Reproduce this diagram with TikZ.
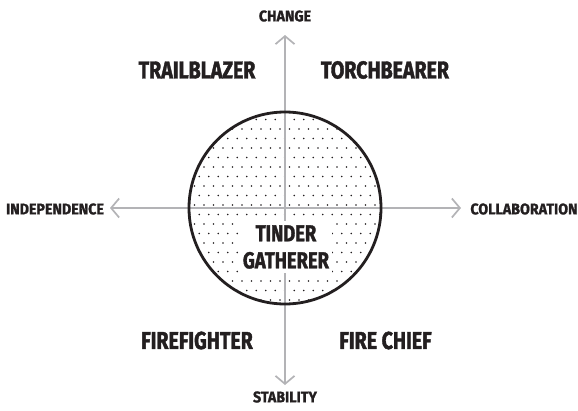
\documentclass[tikz,border=0pt]{standalone}
\usepackage{fontspec}
\newfontfamily\cf[FakeStretch=0.80, BoldFeatures={FakeBold=1.6}]{Fira Sans}
\newfontfamily\cfs[FakeStretch=0.92, BoldFeatures={FakeBold=1.2}]{Fira Sans}
\usetikzlibrary{arrows.meta}
\definecolor{ink}{HTML}{231F20}
\definecolor{axisgray}{HTML}{B3B3B6}
\tikzset{
  axisline/.style={draw=axisgray, line width=1.7pt, -{Straight Barb[length=8pt,width=19pt,line width=1.7pt]}},
  biglabel/.style={text=ink, font=\cf\bfseries\fontsize{24.5}{28}\selectfont, inner sep=0pt},
  smalllabel/.style={text=ink, font=\cfs\bfseries\fontsize{15.5}{17}\selectfont, inner sep=0pt},
}
\begin{document}
\begin{tikzpicture}[x=1pt,y=-1pt]
\useasboundingbox (0,0) rectangle (578,410);
% dots clipped to circle
\coordinate (c) at (285,208);
\begin{scope}
\clip (c) circle (96);
\foreach \i in {0,...,22}{
  \foreach \j in {0,...,22}{
    \pgfmathsetmacro{\xx}{185+\j*9.5+mod(\i,2)*4.75}
    \pgfmathsetmacro{\yy}{110+\i*9.5}
    \fill[ink] (\xx,\yy) circle (0.85);
  }
}
\end{scope}
% axes
\coordinate (vb) at (285,385);
\coordinate (vt) at (285,35);
\coordinate (hl) at (110,208);
\coordinate (hr) at (461,208);
\coordinate (mid) at (285,208);
\draw[axisline] (mid) -- (vt);
\draw[axisline] (mid) -- (vb);
\draw[axisline] (mid) -- (hl);
\draw[axisline] (mid) -- (hr);
% circle
\draw[ink, line width=2.8pt] (c) circle (96);
% center label
\node[fill=white, inner xsep=3pt, inner ysep=4pt, align=center, text=ink,
      font=\cf\bfseries\fontsize{23}{27}\selectfont] (tg) at (286,247) {TINDER\\GATHERER};
% labels
\node[smalllabel] (change) at (285,16) {CHANGE};
\node[smalllabel] (stab) at (285,397) {STABILITY};
\node[smalllabel] (indep) at (55,209) {INDEPENDENCE};
\node[smalllabel] (collab) at (524,209) {COLLABORATION};
\node[biglabel] (trail) at (197,70) {TRAILBLAZER};
\node[biglabel] (torch) at (385,70) {TORCHBEARER};
\node[biglabel] (ff) at (197,340.5) {FIREFIGHTER};
\node[biglabel] (fc) at (385.5,340.5) {FIRE CHIEF};
\end{tikzpicture}
\end{document}
